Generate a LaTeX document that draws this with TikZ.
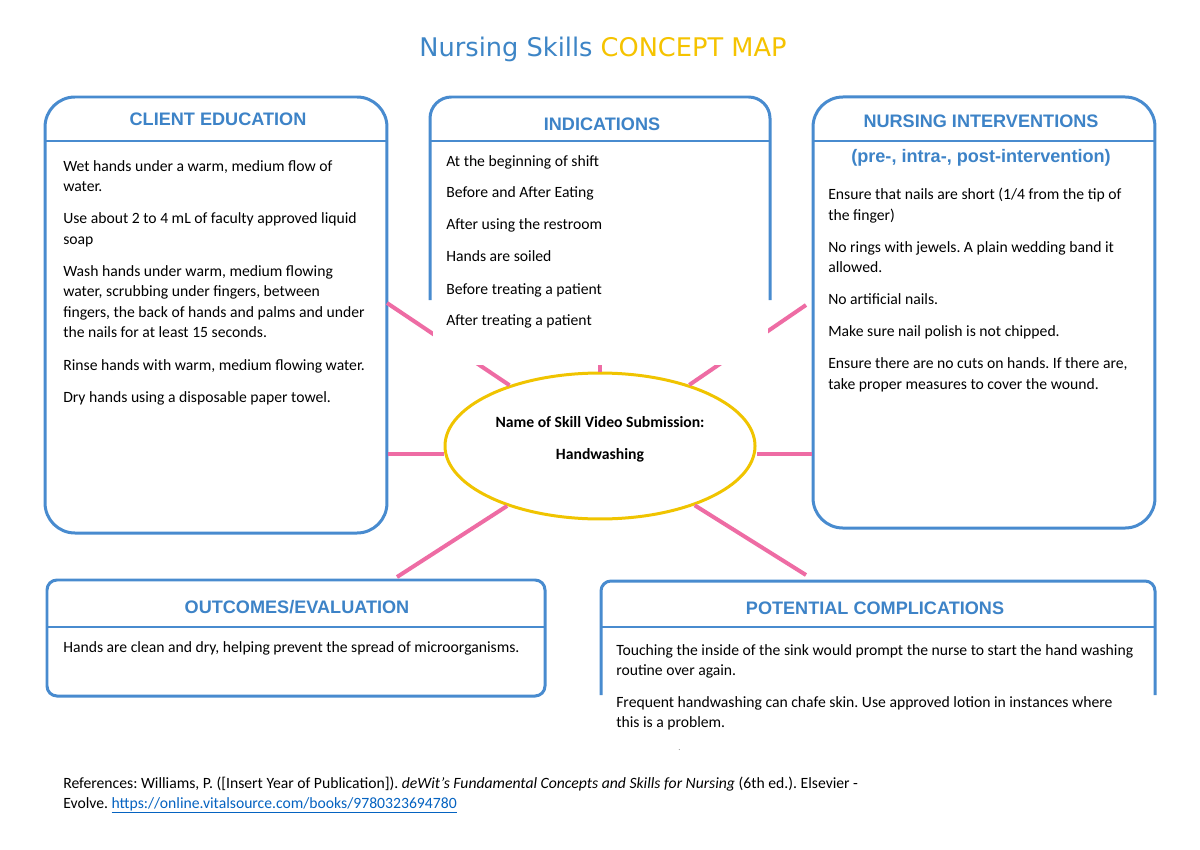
\documentclass[tikz,border=0pt]{standalone}
\usepackage{fontspec}
\setmainfont{Carlito}
\newfontfamily\hdrfont{Liberation Sans}
\newfontfamily\ttlfont{DejaVu Sans}
\usetikzlibrary{shapes.geometric,calc}
\definecolor{boxblue}{RGB}{72,139,207}
\definecolor{hdrblue}{RGB}{61,131,199}
\definecolor{titleblue}{RGB}{61,133,198}
\definecolor{titleyellow}{RGB}{245,195,0}
\definecolor{ellyellow}{RGB}{240,196,0}
\definecolor{pinkc}{RGB}{238,108,164}
\definecolor{linkblue}{RGB}{5,99,193}
\frenchspacing
\begin{document}
\begin{tikzpicture}[x=0.7016pt,y=-0.7016pt,
  boxline/.style={draw=boxblue,line width=2.1pt},
  hline/.style={draw=boxblue,line width=1.5pt},
  pinkline/.style={draw=pinkc,line width=2.8pt},
  hdr/.style={font=\hdrfont\bfseries\fontsize{12.7}{15}\selectfont,text=hdrblue,anchor=base,inner sep=0pt},
  txt/.style={font=\fontsize{11}{13}\selectfont,anchor=base west,inner sep=0pt},
  etxt/.style={font=\bfseries\fontsize{11}{13}\selectfont,anchor=base,inner sep=0pt},
]
\fill[white] (0,0) rectangle (1200,849);
\useasboundingbox (0,0) rectangle (1200,849);

% title
\node[anchor=base,inner sep=0pt,font=\ttlfont\fontsize{18}{21}\selectfont] (title) at (603,56.7)
  {\textcolor{titleblue}{Nursing Skills} \textcolor{titleyellow}{CONCEPT MAP}};

% closed boxes
\node[boxline,rounded corners=21pt,minimum width=239.9pt,minimum height=305.9pt,inner sep=0pt] (ce) at (216,315) {};
\node[boxline,rounded corners=21pt,minimum width=239.9pt,minimum height=302.4pt,inner sep=0pt] (ni) at (984,312.5) {};
\node[boxline,rounded corners=7pt,minimum width=349.4pt,minimum height=81.4pt,inner sep=0pt] (oe) at (296,638) {};

% centre ellipse
\node[draw=ellyellow,line width=2.1pt,ellipse,fill=white,minimum width=217.5pt,minimum height=102.4pt,inner sep=0pt] (ell) at (600,446) {};

% connector ends
\coordinate (hl) at (0,454);
\coordinate (cul) at (387,303);
\coordinate (cur) at (806,305);
\coordinate (cll) at (397,577);
\coordinate (clr) at (806,575);
\coordinate (cin) at (600,300);

% connectors
\draw[pinkline] (hl -| ce.east) -- (hl -| ell.west);
\draw[pinkline] (hl -| ell.east) -- (hl -| ni.west);
\draw[pinkline] (cul) -- (ell);
\draw[pinkline] (cur) -- (ell);
\draw[pinkline] (cll) -- (ell);
\draw[pinkline] (clr) -- (ell);
\draw[pinkline] (cin) -- (ell.north);

% white text area under indications
\fill[white] (433,300) rectangle (768,365);

% open boxes
\draw[boxline,rounded corners=15pt] (430,300) -- (430,97) -- (770,97) -- (770,300);
\draw[boxline,rounded corners=7pt] (601,695) -- (601,581) -- (1155,581) -- (1155,695);

% header lines
\draw[hline] (45,141) -- (387,141);
\draw[hline] (430,141) -- (770,141);
\draw[hline] (813,141) -- (1155,141);
\draw[hline] (47,627) -- (545,627);
\draw[hline] (601,627) -- (1155,627);

% headers
\node[hdr] (hce) at (218,126) {CLIENT EDUCATION};
\node[hdr] (hin) at (602,131) {INDICATIONS};
\node[hdr] (hni) at (981,127.3) {NURSING INTERVENTIONS};
\node[hdr] (hni2) at (981,162.7) {(pre-, intra-, post-intervention)};
\node[hdr] (hoe) at (297,613) {OUTCOMES/EVALUATION};
\node[hdr] (hpc) at (875,614) {POTENTIAL COMPLICATIONS};

% client education text
\foreach \t/\y [count=\i] in {
  {Wet hands under a warm, medium flow of}/171.5,
  {water.}/192,
  {Use about 2 to 4 mL of faculty approved liquid}/223.5,
  {soap}/244,
  {Wash hands under warm, medium flowing}/276,
  {water, scrubbing under fingers, between}/296.5,
  {fingers, the back of hands and palms and under}/317,
  {the nails for at least 15 seconds.}/337.5,
  {Rinse hands with warm, medium flowing water.}/370,
  {Dry hands using a disposable paper towel.}/402}
  \node[txt] (ce\i) at (63,\y) {\t};

% indications text
\foreach \t/\y [count=\i] in {
  {At the beginning of shift}/166,
  {Before and After Eating}/197.7,
  {After using the restroom}/229.3,
  {Hands are soiled}/261.7,
  {Before treating a patient}/294,
  {After treating a patient}/325.7}
  \node[txt] (in\i) at (446,\y) {\t};

% nursing interventions text
\foreach \t/\y [count=\i] in {
  {Ensure that nails are short (1/4 from the tip of}/199.5,
  {the finger)}/220,
  {No rings with jewels. A plain wedding band it}/252,
  {allowed.}/272.5,
  {No artificial nails.}/304.5,
  {Make sure nail polish is not chipped.}/336.5,
  {Ensure there are no cuts on hands. If there are,}/368.5,
  {take proper measures to cover the wound.}/389}
  \node[txt] (ni\i) at (828,\y) {\t};

% outcomes text
\node[txt] (oe1) at (63,652) {Hands are clean and dry, helping prevent the spread of microorganisms.};

% complications text
\foreach \t/\y [count=\i] in {
  {Touching the inside of the sink would prompt the nurse to start the hand washing}/655,
  {routine over again.}/675,
  {Frequent handwashing can chafe skin. Use approved lotion in instances where}/707,
  {this is a problem.}/727}
  \node[txt] (pc\i) at (616,\y) {\t};
\node[txt,text=gray,font=\fontsize{6}{7}\selectfont] (dot) at (678,750) {.};

% ellipse text
\node[etxt] (sk1) at (600,427.7) {Name of Skill Video Submission:};
\node[etxt] (sk2) at (600,459.3) {Handwashing};

% references
\node[txt] (ref1) at (63,788) {References: Williams, P. ([Insert Year of Publication]). \textit{deWit's Fundamental Concepts and Skills for Nursing} (6th ed.). Elsevier -};
\node[txt] (ref2) at (63,808) {Evolve. \textcolor{linkblue}{\underline{https://online.vitalsource.com/books/9780323694780}}};
\end{tikzpicture}
\end{document}
